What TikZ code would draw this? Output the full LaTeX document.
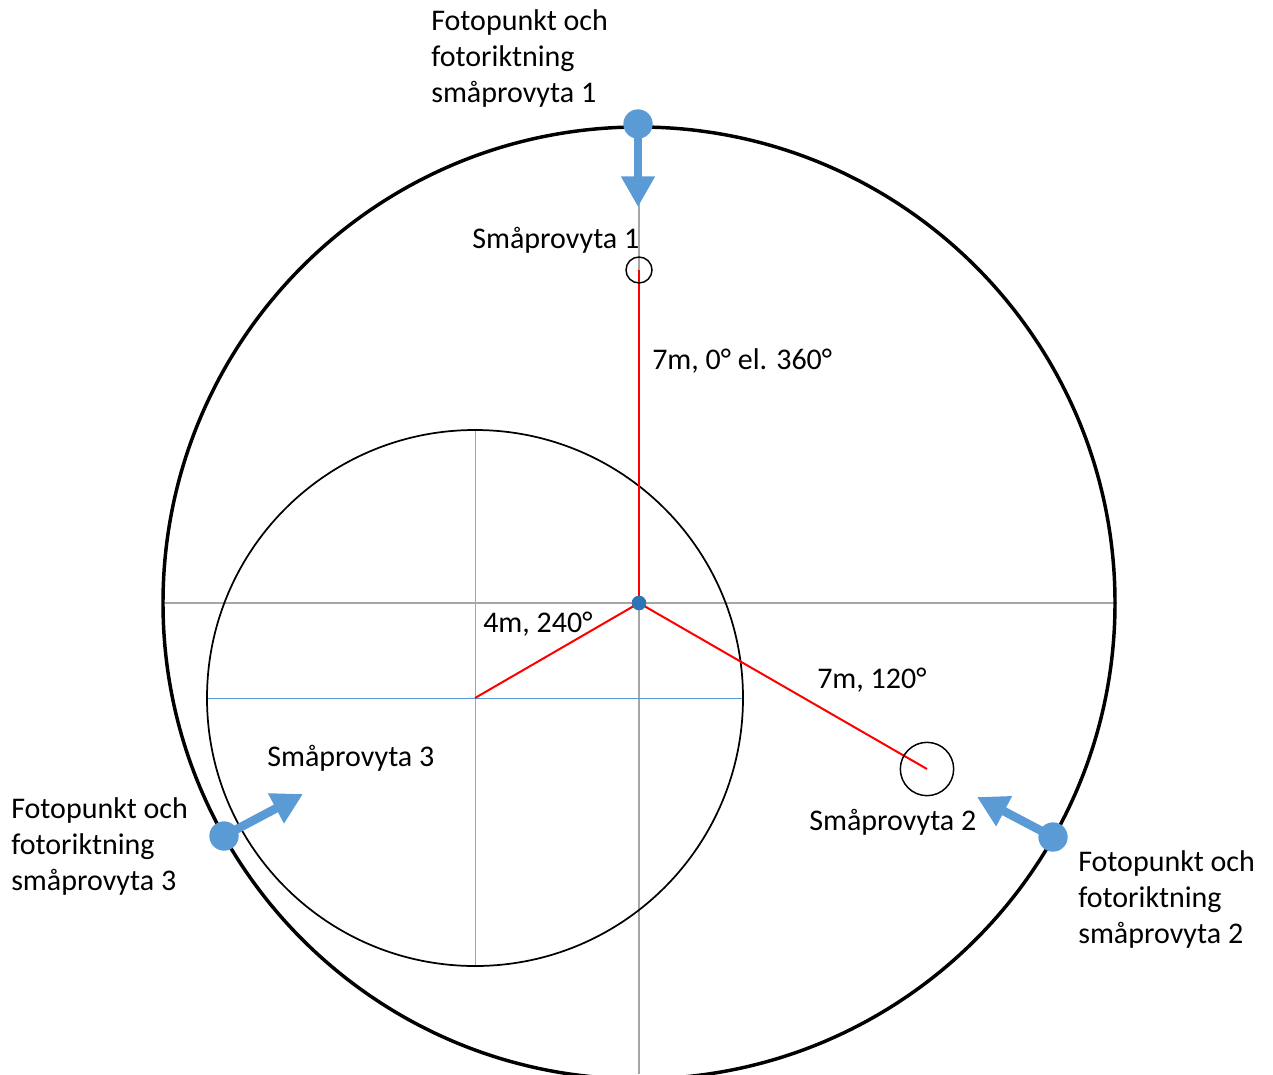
\documentclass[tikz,border=0pt]{standalone}
\usepackage{fontspec}
\setmainfont{Carlito}
\usetikzlibrary{arrows.meta}
\definecolor{photoblue}{HTML}{5B9BD5}
\definecolor{centreblue}{HTML}{2E75B6}
\definecolor{axisgray}{HTML}{A6A6A6}
\tikzset{
  lbl/.style={font=\fontsize{22.5}{27}\selectfont, inner sep=0pt, align=left},
  radial/.style={red, line width=1.5pt},
  axis/.style={axisgray, line width=1.6pt},
  photodot/.style={circle, fill=photoblue, inner sep=0pt, minimum size=22pt},
  photoarrow/.style={photoblue, line width=6.5pt, -{Triangle[width=24pt,length=23pt]}},
  plotcirc/.style={draw=black, circle, inner sep=0pt, line width=1.1pt}
}
\begin{document}
\begin{tikzpicture}[x=0.75pt,y=-0.75pt]
\useasboundingbox (0,0) rectangle (1273,1074);
% coordinates
\coordinate (C) at (639,603);
\coordinate (I) at (475,698);
\coordinate (P1) at (639,270);
\coordinate (P2) at (927,769);
\coordinate (Atop) at (639,127);
\coordinate (Abot) at (639,1074);
\coordinate (Hleft) at (163,603);
\coordinate (Hright) at (1115,603);
\coordinate (Itop) at (475,430);
\coordinate (Ibot) at (475,966);
\coordinate (Ileft) at (207,698);
\coordinate (Iright) at (743,698);
% axes
\draw[axis] (Atop) -- (Abot);
\draw[axis] (Hleft) -- (Hright);
% inner circle cross
\draw[axisgray, line width=0.7pt] (Itop) -- (Ibot);
\draw[photoblue, line width=0.7pt] (Ileft) -- (Iright);
% circles
\draw[line width=2.6pt] (C) circle[radius=476];
\draw[line width=1.3pt] (I) circle[radius=268];
% radial lines
\draw[radial] (C) -- (P1);
\draw[radial] (C) -- (P2);
\draw[radial] (C) -- (I);
% small plots
\node[plotcirc, minimum size=19.5pt] (sp1) at (P1) {};
\node[plotcirc, minimum size=40pt] (sp2) at (P2) {};
\node[circle, fill=centreblue, inner sep=0pt, minimum size=11pt] (cdot) at (C) {};
% photo points
\node[photodot] (f1) at (638,124) {};
\node[photodot] (f2) at (1053,837) {};
\node[photodot] (f3) at (224,836) {};
\coordinate (t1) at (638,207);
\coordinate (t2) at (977,797);
\coordinate (t3) at (303,794);
\draw[photoarrow] (f1.center) -- (t1);
\draw[photoarrow] (f2.center) -- (t2);
\draw[photoarrow] (f3.center) -- (t3);
% labels
\node[lbl, anchor=west] (l1) at (431,59) {Fotopunkt och\\fotoriktning\\småprovyta 1};
\node[lbl, anchor=west] (l3) at (11,846) {Fotopunkt och\\fotoriktning\\småprovyta 3};
\node[lbl, anchor=west] (l2) at (1078,899) {Fotopunkt och\\fotoriktning\\småprovyta 2};
\node[lbl, anchor=west] (s1) at (472,240) {Småprovyta 1};
\node[lbl, anchor=west] (s2) at (809,822) {Småprovyta 2};
\node[lbl, anchor=west] (s3) at (267,758) {Småprovyta 3};
\node[lbl, anchor=west] (d1) at (652,361) {7m, 0° el. 360°};
\node[lbl, anchor=west] (d2) at (817,680) {7m, 120°};
\node[lbl, anchor=west] (d3) at (483,624) {4m, 240°};
\end{tikzpicture}
\end{document}
